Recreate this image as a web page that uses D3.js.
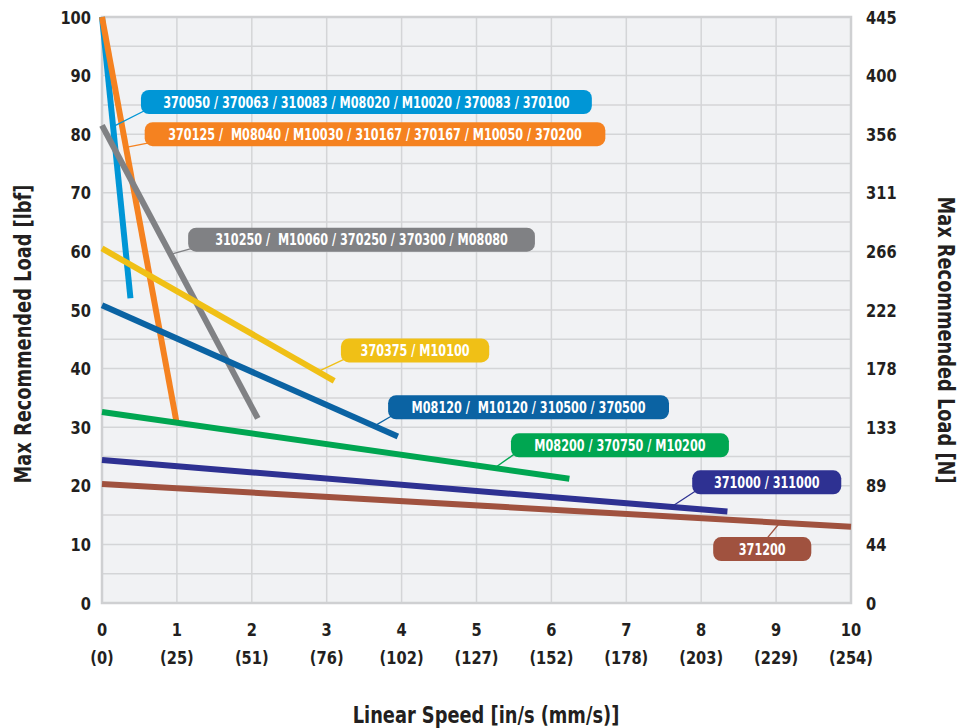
<!DOCTYPE html>
<html>
<head>
<meta charset="utf-8">
<script src="https://cdn.jsdelivr.net/npm/d3@7"></script>
<style>
  body { margin: 0; background: #fff; }
  svg text { font-family: "DejaVu Sans Condensed", "DejaVu Sans", sans-serif; font-weight: bold; fill: #231f20; }
</style>
</head>
<body>
<div id="chart"></div>
<script>
// speed ticks (in/s) and their mm/s equivalents
var speedTicks = [0, 1, 2, 3, 4, 5, 6, 7, 8, 9, 10]
var mmLabels = ["(0)", "(25)", "(51)", "(76)", "(102)", "(127)", "(152)", "(178)", "(203)", "(229)", "(254)"]

// load ticks (lbf) and Newton labels
var lbfTicks = [0, 10, 20, 30, 40, 50, 60, 70, 80, 90, 100]
var newtonLabels = ["0", "44", "89", "133", "178", "222", "266", "311", "356", "400", "445"]

// series: model groups, start / end points (speed in/s, load lbf)
var seriesNames = [
  "370050 / 370063 / 310083 / M08020 / M10020 / 370083 / 370100",
  "370125 /  M08040 / M10030 / 310167 / 370167 / M10050 / 370200",
  "310250 /  M10060 / 370250 / 370300 / M08080",
  "370375 / M10100",
  "M08120 /  M10120 / 310500 / 370500",
  "M08200 / 370750 / M10200",
  "371000 / 311000",
  "371200"
]
var seriesSpeed = [[0, 0.38], [0, 1.0], [0, 2.08], [0, 3.1], [0, 3.95], [0, 6.24], [0, 8.35], [0, 10]]
var seriesLoad = [[100, 52], [100, 30.5], [81.5, 31.5], [60.5, 37.9], [50.8, 28.4], [32.6, 21.2], [24.4, 15.6], [20.3, 13.0]]

var colors = ["#0096d6", "#f58220", "#808184", "#f0c016", "#0b63a3", "#00a651", "#2e3192", "#a0523f"]

// label boxes, in chart units: left, right, centre load, leader point along line (0..1), leader from top?
var labelBox = [
  {x0: 0.52, x1: 6.54, y: 85.5, t: 0.39},
  {x0: 0.57, x1: 6.72, y: 80.0, t: 0.32},
  {x0: 1.15, x1: 5.78, y: 62.0, t: 0.44},
  {x0: 3.19, x1: 5.17, y: 43.1, t: 0.93},
  {x0: 3.82, x1: 7.57, y: 33.4, t: 0.92},
  {x0: 5.46, x1: 8.37, y: 26.9, t: 0.84},
  {x0: 7.88, x1: 9.87, y: 20.6, t: 0.91},
  {x0: 8.16, x1: 9.47, y: 9.2, t: 0.905, top: true}
]

var width = 962, height = 728

var x = d3.scaleLinear().domain([0, 10]).range([102, 851])
var y = d3.scaleLinear().domain([0, 100]).range([603, 17])

var svg = d3.select("#chart").append("svg")
  .attr("width", width)
  .attr("height", height)

// narrow the font a bit, the original uses a condensed face
function squeeze(sel, k) {
  sel.each(function() {
    var w = this.getComputedTextLength()
    d3.select(this).attr("textLength", w * k).attr("lengthAdjust", "spacingAndGlyphs")
  })
}

// plot background
svg.append("rect")
  .attr("x", x(0)).attr("y", y(100))
  .attr("width", x(10) - x(0)).attr("height", y(0) - y(100))
  .attr("fill", "#f1f2f4")

var grid = svg.append("g").attr("stroke", "#d4d5d7").attr("stroke-width", 1.5)
grid.selectAll(".vg")
  .data(speedTicks)
  .enter().append("line")
  .attr("x1", function(d) { return x(d) }).attr("x2", function(d) { return x(d) })
  .attr("y1", y(0)).attr("y2", y(100))
grid.selectAll(".hg")
  .data(d3.range(0, 101, 5))
  .enter().append("line")
  .attr("x1", x(0)).attr("x2", x(10))
  .attr("y1", function(d) { return y(d) }).attr("y2", function(d) { return y(d) })

svg.append("rect")
  .attr("x", x(0)).attr("y", y(100))
  .attr("width", x(10) - x(0)).attr("height", y(0) - y(100))
  .attr("fill", "none").attr("stroke", "#cfd0d2").attr("stroke-width", 2.5)

// axes text
var tickFont = 18.5
var t1 = svg.append("g").selectAll("text")
  .data(lbfTicks)
  .enter().append("text")
  .attr("x", 91).attr("y", function(d) { return y(d) })
  .attr("dy", "0.36em")
  .attr("text-anchor", "end")
  .attr("font-size", tickFont)
  .text(function(d) { return d })
squeeze(t1, 0.88)

var t2 = svg.append("g").selectAll("text")
  .data(newtonLabels)
  .enter().append("text")
  .attr("x", 866).attr("y", function(d, i) { return y(lbfTicks[i]) })
  .attr("dy", "0.36em")
  .attr("font-size", tickFont)
  .text(function(d) { return d })
squeeze(t2, 0.88)

var t3 = svg.append("g").selectAll("text")
  .data(speedTicks)
  .enter().append("text")
  .attr("x", function(d) { return x(d) }).attr("y", 629)
  .attr("dy", "0.36em")
  .attr("text-anchor", "middle")
  .attr("font-size", tickFont)
  .text(function(d) { return d })
squeeze(t3, 0.88)

var t4 = svg.append("g").selectAll("text")
  .data(mmLabels)
  .enter().append("text")
  .attr("x", function(d, i) { return x(speedTicks[i]) }).attr("y", 657)
  .attr("dy", "0.36em")
  .attr("text-anchor", "middle")
  .attr("font-size", tickFont)
  .text(function(d) { return d })
squeeze(t4, 0.88)

var titles = svg.append("g")
titles.append("text")
  .attr("x", 486).attr("y", 715).attr("dy", "0.36em")
  .attr("text-anchor", "middle")
  .attr("font-size", 23)
  .text("Linear Speed [in/s (mm/s)]")

titles.append("text")
  .attr("transform", "translate(23,334) rotate(-90)")
  .attr("dy", "0.36em")
  .attr("text-anchor", "middle")
  .attr("font-size", 23)
  .text("Max Recommended Load [lbf]")

titles.append("text")
  .attr("transform", "translate(946,340) rotate(90)")
  .attr("dy", "0.36em")
  .attr("text-anchor", "middle")
  .attr("font-size", 23)
  .text("Max Recommended Load [N]")
squeeze(titles.selectAll("text"), 0.86)

// series lines
var line = d3.line()
  .x(function(d) { return x(d[0]) })
  .y(function(d) { return y(d[1]) })

svg.append("g").selectAll("path")
  .data(seriesNames)
  .enter().append("path")
  .attr("d", function(d, i) { return line(d3.zip(seriesSpeed[i], seriesLoad[i])) })
  .attr("fill", "none")
  .attr("stroke", function(d, i) { return colors[i] })
  .attr("stroke-width", 6)

// labels with leader lines
var boxH = 24
var labels = svg.append("g").selectAll("g")
  .data(seriesNames)
  .enter().append("g")

labels.append("line")
  .attr("x1", function(d, i) {
    var b = labelBox[i]
    return b.top ? x(b.x0) + (x(b.x1) - x(b.x0)) * 0.55 : x(b.x0) + 3
  })
  .attr("y1", function(d, i) {
    var b = labelBox[i]
    return b.top ? y(b.y) - boxH / 2 + 1 : y(b.y) + boxH / 2 - 3
  })
  .attr("x2", function(d, i) {
    var s = seriesSpeed[i], t = labelBox[i].t
    return x(s[0] + (s[1] - s[0]) * t)
  })
  .attr("y2", function(d, i) {
    var l = seriesLoad[i], t = labelBox[i].t
    return y(l[0] + (l[1] - l[0]) * t)
  })
  .attr("stroke", function(d, i) { return colors[i] })
  .attr("stroke-width", 1.3)

labels.append("rect")
  .attr("x", function(d, i) { return x(labelBox[i].x0) })
  .attr("y", function(d, i) { return y(labelBox[i].y) - boxH / 2 })
  .attr("width", function(d, i) { return x(labelBox[i].x1) - x(labelBox[i].x0) })
  .attr("height", boxH)
  .attr("rx", 8)
  .attr("fill", function(d, i) { return colors[i] })

var lt = labels.append("text")
  .attr("x", function(d, i) { return (x(labelBox[i].x0) + x(labelBox[i].x1)) / 2 })
  .attr("y", function(d, i) { return y(labelBox[i].y) })
  .attr("dy", "0.36em")
  .attr("text-anchor", "middle")
  .attr("font-size", 16)
  .style("white-space", "pre")
  .style("fill", "#fff")
  .text(function(d) { return d })
squeeze(lt, 0.78)
</script>
</body>
</html>
